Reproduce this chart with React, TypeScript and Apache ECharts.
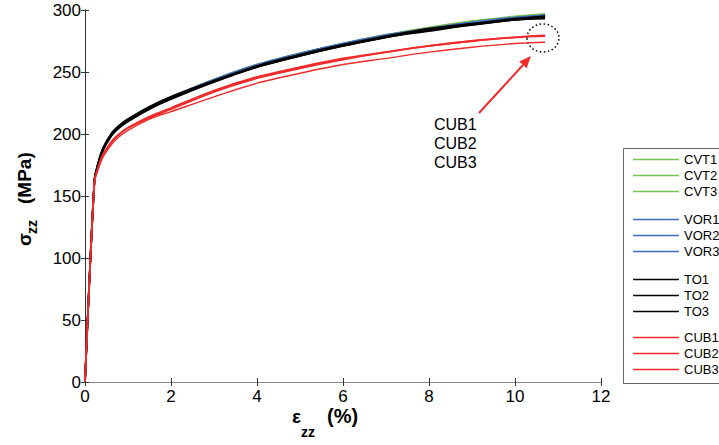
import React, { useEffect, useRef } from "react";
import * as echarts from "echarts";

// Axial strain (%) at which each curve is sampled
const strain = [0, 0.22, 0.3, 0.4, 0.5, 0.65, 0.8, 1, 1.5, 2, 3, 4, 5, 6, 7, 8, 9, 10, 10.7];

// Axial stress (MPa) for each specimen
const cvt1 = [0, 163, 176, 187, 194, 202, 207, 212, 222, 230, 244, 256, 265, 273, 280, 286, 291, 295, 297];
const cvt2 = [0, 163, 175, 186, 194, 201, 207, 212, 222, 230, 244, 256, 265, 273, 280, 285, 290, 294, 296];
const cvt3 = [0, 162, 175, 186, 193, 201, 206, 211, 221, 229, 243, 255, 264, 272, 279, 285, 290, 294, 296];
const vor1 = [0, 163, 176, 187, 194, 202, 207, 212, 222, 230, 244, 256, 265, 273, 280, 285, 290, 294, 296];
const vor2 = [0, 163, 175, 186, 193, 201, 206, 211, 221, 229, 243, 255, 265, 273, 279, 285, 290, 294, 295.5];
const vor3 = [0, 162, 175, 186, 193, 201, 206, 211, 221, 229, 243, 255, 264, 272, 279, 284, 289, 293, 295];
const to1 = [0, 163, 176, 187, 194, 202, 207, 212, 222, 230, 243, 255, 264, 272, 279, 285, 289, 293, 295];
const to2 = [0, 163, 175, 186, 193, 201, 206, 211, 221, 229, 242, 254, 263, 271, 278, 284, 288, 292, 294];
const to3 = [0, 162, 175, 185, 192, 200, 205, 210, 220, 228, 242, 254, 263, 271, 278, 283, 288, 292, 293];
const cub1 = [0, 162, 172, 182, 188, 195, 200, 205, 214, 221, 235, 246, 254, 261, 266, 271, 275, 278, 279.5];
const cub2 = [0, 162, 172, 182, 188, 195, 200, 205, 213, 220, 234, 245, 253, 260, 266, 271, 275, 278, 279];
const cub3 = [0, 161, 171, 180, 186, 193, 198, 203, 212, 218, 230, 241, 249, 256, 261, 266, 270, 273, 274];

const xTicks = [0, 2, 4, 6, 8, 10, 12];
const yTicks = [0, 50, 100, 150, 200, 250, 300];

const groups = [
  { names: ["CVT1", "CVT2", "CVT3"], values: [cvt1, cvt2, cvt3], color: "#77bf4c", widths: [1.6, 1.6, 1.6] },
  { names: ["VOR1", "VOR2", "VOR3"], values: [vor1, vor2, vor3], color: "#3f6fc0", widths: [1.6, 1.6, 1.6] },
  { names: ["TO1", "TO2", "TO3"], values: [to1, to2, to3], color: "#000000", widths: [1.8, 1.8, 1.8] },
  { names: ["CUB1", "CUB2", "CUB3"], values: [cub1, cub2, cub3], color: "#f02a2a", widths: [1.8, 1.8, 1.4] },
];

const FONT = "'Liberation Sans', Arial, sans-serif";

export default function App() {
  const ref = useRef<HTMLDivElement>(null);

  useEffect(() => {
    if (!ref.current) return;
    const chart = echarts.init(ref.current, undefined, { renderer: "svg" });

    const series: any[] = [];
    groups.forEach((g) => {
      g.names.forEach((name, i) => {
        series.push({
          name,
          type: "line",
          data: strain.map((s, k) => [s, g.values[i][k]]),
          symbol: "none",
          smooth: 0.3,
          color: g.color,
          lineStyle: { color: g.color, width: g.widths[i] },
          xAxisIndex: 0,
          yAxisIndex: 0,
        });
      });
    });

    const legendTops = [153, 213, 273, 331];
    const legends = groups.map((g, i) => ({
      orient: "vertical",
      left: 633,
      top: legendTops[i],
      padding: 0,
      icon: "rect",
      itemWidth: 46,
      itemHeight: 1.6,
      itemGap: 3,
      data: g.names,
      selectedMode: false,
      itemStyle: { color: g.color },
      textStyle: { fontFamily: FONT, fontSize: 13, color: "#000" },
    }));

    const axisBase = {
      type: "value",
      axisLine: { show: true, lineStyle: { color: "#333", width: 1 } },
      axisTick: { show: true, inside: true, length: 4, lineStyle: { color: "#333" } },
      splitLine: { show: false },
    };

    chart.setOption({
      animation: false,
      backgroundColor: "#fff",
      grid: { left: 85, right: 118, top: 10, bottom: 63, show: false },
      legend: legends,
      xAxis: [
        {
          ...axisBase,
          position: "bottom",
          min: xTicks[0],
          max: xTicks[xTicks.length - 1],
          interval: 2,
          axisLabel: { fontFamily: FONT, fontSize: 17, color: "#000", margin: 6 },
        },
        {
          ...axisBase,
          position: "top",
          min: xTicks[0],
          max: xTicks[xTicks.length - 1],
          interval: 2,
          axisLine: { show: true, lineStyle: { color: "#8a8a8a", width: 1 } },
          axisLabel: { show: false },
        },
      ],
      yAxis: [
        {
          ...axisBase,
          position: "left",
          min: yTicks[0],
          max: yTicks[yTicks.length - 1],
          interval: 50,
          axisLabel: { fontFamily: FONT, fontSize: 17, color: "#000", margin: 4 },
        },
        {
          ...axisBase,
          position: "right",
          min: yTicks[0],
          max: yTicks[yTicks.length - 1],
          interval: 50,
          axisLabel: { show: false },
        },
      ],
      series,
      graphic: [
        // legend frame
        {
          type: "rect",
          z: 1,
          shape: { x: 623.5, y: 148.5, width: 110, height: 235 },
          style: { fill: "#fff", stroke: "#666", lineWidth: 1 },
        },
        // y-axis title: σzz (MPa)
        {
          type: "group",
          x: 24,
          y: 246,
          rotation: Math.PI / 2,
          children: [
            {
              type: "text",
              x: 0,
              y: 0,
              style: { text: "σ", font: `bold 19px ${FONT}`, fill: "#000", verticalAlign: "middle", align: "left" },
            },
            {
              type: "text",
              x: 12,
              y: 8,
              style: { text: "zz", font: `bold 14px ${FONT}`, fill: "#000", verticalAlign: "middle", align: "left" },
            },
            {
              type: "text",
              x: 42,
              y: 0,
              style: { text: "(MPa)", font: `bold 19px ${FONT}`, fill: "#000", verticalAlign: "middle", align: "left" },
            },
          ],
        },
        // x-axis title: εzz (%)
        {
          type: "text",
          x: 292,
          y: 416,
          style: { text: "ε", font: `bold 19px ${FONT}`, fill: "#000", verticalAlign: "middle", align: "left" },
        },
        {
          type: "text",
          x: 301,
          y: 432,
          style: { text: "zz", font: `bold 14px ${FONT}`, fill: "#000", verticalAlign: "middle", align: "left" },
        },
        {
          type: "text",
          x: 327,
          y: 416,
          style: { text: "(%)", font: `bold 20px ${FONT}`, fill: "#000", verticalAlign: "middle", align: "left" },
        },
        // annotation for the CUB curves
        {
          type: "text",
          x: 434,
          y: 115,
          style: {
            text: "CUB1\nCUB2\nCUB3",
            font: `16px ${FONT}`,
            lineHeight: 19,
            fill: "#000",
            align: "left",
            verticalAlign: "top",
          },
        },
        {
          type: "line",
          shape: { x1: 479, y1: 113, x2: 523, y2: 65 },
          style: { stroke: "#f02a2a", lineWidth: 2 },
        },
        {
          type: "polygon",
          shape: { points: [[531, 56], [526.6, 68.3], [519.2, 61.5]] },
          style: { fill: "#f02a2a" },
        },
        {
          type: "ellipse",
          shape: { cx: 543, cy: 38, rx: 16, ry: 14 },
          style: { fill: "none", stroke: "#000", lineWidth: 1.5, lineDash: [1.5, 2.5] },
        },
      ],
    });

    return () => chart.dispose();
  }, []);

  return (
    <div
      ref={ref}
      style={{ position: "fixed", left: 0, top: 0, width: 719, height: 445, background: "#fff" }}
    />
  );
}
